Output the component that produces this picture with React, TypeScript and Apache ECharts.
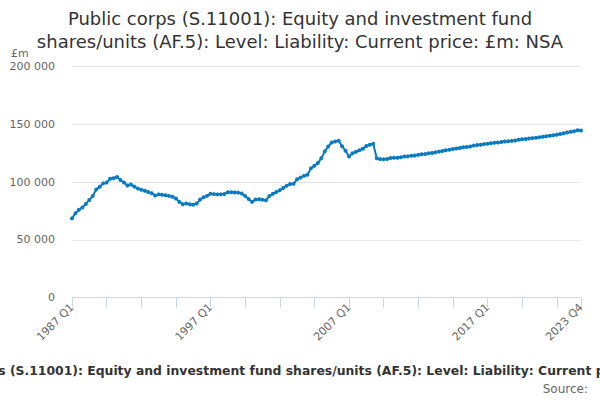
import React, { useEffect, useRef } from "react";
import * as echarts from "echarts";

const TITLE = "Public corps (S.11001): Equity and investment fund shares/units (AF.5): Level: Liability: Current price: £m: NSA";
const TITLE_WRAPPED = "Public corps (S.11001): Equity and investment fund\nshares/units (AF.5): Level: Liability: Current price: £m: NSA";
const UNIT = "£m";
const SOURCE = "Source:";

const startYear = 1987;
const endYear = 2023;
const quarters: string[] = [];
for (let y = startYear; y <= endYear; y++) {
  for (let q = 1; q <= 4; q++) quarters.push(`${y} Q${q}`);
}

const values: number[] = [
  // 1987-1991
  68500, 73000, 76000, 78000, 81000, 84500, 88000, 93500,
  95800, 98800, 99500, 102800, 103300, 104300, 101800, 99500,
  97000, 97800, 96000, 94300,
  // 1992-1996
  93200, 92400, 91300, 90300, 88300, 89300, 89000, 88600,
  88000, 87200, 85800, 82800, 80800, 81300, 80800, 80300,
  81300, 84800, 86800, 88000,
  // 1997-2001
  89800, 89500, 89300, 89300, 89700, 91200, 91200, 91000,
  90800, 90000, 88000, 85200, 82800, 84800, 85000, 84700,
  84200, 87800, 89800, 91300,
  // 2002-2006
  92800, 94800, 96800, 98300, 98500, 102300, 103800, 105300,
  106300, 111800, 114000, 116500, 120500, 126500, 130800, 134200,
  135000, 135800, 131000, 127000,
  // 2007-2011
  122000, 124800, 126200, 127400, 128800, 131200, 132300, 133200,
  120500, 119800, 119600, 120000, 120700, 121000, 121000, 121500,
  122000, 122200, 122800, 123000,
  // 2012-2016
  123500, 124000, 124200, 124800, 125200, 125800, 126300, 126800,
  127500, 128000, 128500, 129000, 129500, 130000, 130300, 130800,
  131500, 132000, 132300, 132800,
  // 2017-2021
  133200, 133600, 134000, 134200, 134600, 135000, 135200, 135600,
  136000, 136500, 137000, 137300, 137600, 138000, 138300, 138700,
  139200, 139600, 140000, 140400,
  // 2022-2023
  141000, 141600, 142200, 142800, 143500, 144000, 144800, 144600,
];

const Y_MAX = 200000;
const Y_STEP = 50000;
const LABEL_EVERY = 40;
const TICK_EVERY = 10;

const FONT = "DejaVu Sans";
const LINE_COLOR = "#0a7bc2";

export default function App() {
  const ref = useRef<HTMLDivElement>(null);
  useEffect(() => {
    if (!ref.current) return;
    document.body.style.margin = "0";
    const chart = echarts.init(ref.current, undefined, { renderer: "svg" });
    const last = quarters.length - 1;
    chart.setOption({
      animation: false,
      backgroundColor: "#ffffff",
      textStyle: { fontFamily: FONT },
      title: {
        text: TITLE_WRAPPED,
        left: "center",
        top: 7,
        padding: 0,
        textStyle: {
          fontFamily: FONT,
          fontSize: 18,
          fontWeight: "normal",
          color: "#333333",
          lineHeight: 23,
        },
      },
      grid: { left: 72, right: 19, top: 66.5, bottom: 102.5, containLabel: false },
      xAxis: {
        type: "category",
        data: quarters,
        boundaryGap: false,
        axisLine: { lineStyle: { color: "#ccd6eb", width: 1 } },
        axisTick: {
          show: true,
          length: 10,
          interval: (i: number) => i % TICK_EVERY === 0 || i === last,
          lineStyle: { color: "#ccd6eb" },
        },
        axisLabel: {
          interval: (i: number) => i % LABEL_EVERY === 0 || i === last,
          rotate: 45,
          color: "#666666",
          fontSize: 11,
          fontFamily: FONT,
          margin: 8,
          showMaxLabel: true,
        },
        splitLine: { show: false },
      },
      yAxis: {
        type: "value",
        min: 0,
        max: Y_MAX,
        interval: Y_STEP,
        axisLine: { show: false },
        axisTick: { show: false },
        axisLabel: {
          color: "#666666",
          fontSize: 11,
          fontFamily: FONT,
          margin: 17,
          formatter: (v: number) => String(v).replace(/\B(?=(\d{3})+(?!\d))/g, " "),
        },
        splitLine: { lineStyle: { color: "#e6e6e6", width: 1 } },
      },
      series: [
        {
          type: "line",
          data: values,
          color: LINE_COLOR,
          lineStyle: { color: LINE_COLOR, width: 2 },
          itemStyle: { color: LINE_COLOR },
          symbol: "circle",
          symbolSize: 4,
          showSymbol: true,
          showAllSymbol: true,
        },
      ],
      graphic: [
        {
          type: "text",
          x: 11,
          y: 53,
          style: { text: UNIT, fill: "#666666", fontSize: 11, fontFamily: FONT, verticalAlign: "middle" },
        },
        {
          type: "text",
          x: 310,
          y: 370,
          style: {
            text: TITLE,
            fill: "#333333",
            fontSize: 12.4,
            fontWeight: "bold",
            fontFamily: FONT,
            align: "center",
            verticalAlign: "middle",
          },
        },
        {
          type: "text",
          x: 588,
          y: 389,
          style: {
            text: SOURCE,
            fill: "#666666",
            fontSize: 12,
            fontFamily: FONT,
            align: "right",
            verticalAlign: "middle",
          },
        },
      ],
    });
    return () => chart.dispose();
  }, []);
  return <div ref={ref} style={{ width: 600, height: 400 }} />;
}
